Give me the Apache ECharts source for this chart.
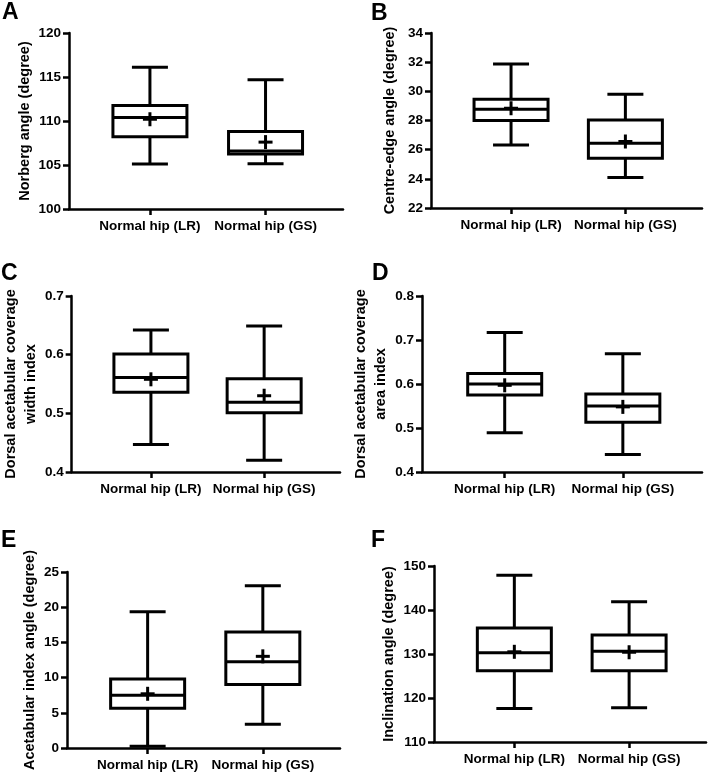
<!DOCTYPE html>
<html>
<head>
<meta charset="utf-8">
<script src="https://cdn.jsdelivr.net/npm/echarts@6/dist/echarts.min.js"></script>
<style>
html,body{margin:0;padding:0;background:#fff;}
#chart{width:708px;height:775px;}
</style>
</head>
<body>
<div id="chart"></div>
<script>
// ---- Data: [min, Q1, median, Q3, max] per group, plus group means ----
const categories = ['Normal hip (LR)', 'Normal hip (GS)'];
const panelLetters = ['A', 'B', 'C', 'D', 'E', 'F'];
const yTitles = [
  'Norberg angle (degree)',
  'Centre-edge angle (degree)',
  'Dorsal acetabular coverage\nwidth index',
  'Dorsal acetabular coverage\narea index',
  'Acetabular index angle (degree)',
  'Inclination angle (degree)'
];

const norbergLR = [105.1, 108.2, 110.4, 111.75, 116.1];
const norbergGS = [105.15, 106.25, 106.6, 108.8, 114.7];
const norbergMeans = [110.2, 107.6];

const centreEdgeLR = [26.32, 28.0, 28.77, 29.45, 31.87];
const centreEdgeGS = [24.1, 25.42, 26.44, 28.04, 29.8];
const centreEdgeMeans = [28.84, 26.56];

const dacWidthLR = [0.447, 0.536, 0.561, 0.601, 0.642];
const dacWidthGS = [0.42, 0.501, 0.519, 0.559, 0.649];
const dacWidthMeans = [0.558, 0.530];

const dacAreaLR = [0.489, 0.575, 0.600, 0.624, 0.717];
const dacAreaGS = [0.440, 0.513, 0.550, 0.577, 0.669];
const dacAreaMeans = [0.597, 0.548];

const acetIndexLR = [0.24, 5.66, 7.5, 9.8, 19.34];
const acetIndexGS = [3.37, 9.03, 12.26, 16.49, 23.05];
const acetIndexMeans = [7.7, 13.02];

const inclinationLR = [117.6, 126.2, 130.3, 135.9, 147.9];
const inclinationGS = [117.8, 126.2, 130.6, 134.3, 141.9];
const inclinationMeans = [130.5, 130.4];

// y-axis ranges
const yMins = [100, 22, 0.4, 0.4, 0, 110];
const yMaxs = [120, 34, 0.7, 0.8, 25, 150];
const yIntervals = [5, 2, 0.1, 0.1, 5, 10];

const panelStats = [
  [norbergLR, norbergGS, norbergMeans],
  [centreEdgeLR, centreEdgeGS, centreEdgeMeans],
  [dacWidthLR, dacWidthGS, dacWidthMeans],
  [dacAreaLR, dacAreaGS, dacAreaMeans],
  [acetIndexLR, acetIndexGS, acetIndexMeans],
  [inclinationLR, inclinationGS, inclinationMeans]
];

// ---- Layout ----
const grids = [
  {left: 69, top: 33, width: 274, height: 176},
  {left: 431, top: 33, width: 271, height: 175},
  {left: 68, top: 296, width: 272, height: 176},
  {left: 422, top: 296, width: 280, height: 176},
  {left: 67, top: 572, width: 273, height: 176},
  {left: 434, top: 566, width: 272, height: 176}
];
const nameGaps = [34, 31, 27, 21, 26, 35];
const letterPos = [[2, 1], [371, 2], [1, 262], [372, 262], [1, 529], [371, 529]];

const FONT = 'Liberation Sans, Arial, sans-serif';
const textBase = {color: '#000', fontWeight: 'bold', fontFamily: FONT};

function renderBox(params, api) {
  const x = api.value(0);
  const c = function (v) { return api.coord([x, v]); };
  const pMin = c(api.value(1));
  const pQ1 = c(api.value(2));
  const pMed = c(api.value(3));
  const pQ3 = c(api.value(4));
  const pMax = c(api.value(5));
  const pMean = c(api.value(6));
  const cx = pMed[0];
  const hb = 37, hc = 18, hp = 7;
  const ls = {stroke: '#000', lineWidth: 3, fill: null};
  return {
    type: 'group',
    children: [
      {type: 'line', shape: {x1: cx, y1: pQ3[1], x2: cx, y2: pMax[1]}, style: ls},
      {type: 'line', shape: {x1: cx, y1: pQ1[1], x2: cx, y2: pMin[1]}, style: ls},
      {type: 'line', shape: {x1: cx - hc, y1: pMax[1], x2: cx + hc, y2: pMax[1]}, style: ls},
      {type: 'line', shape: {x1: cx - hc, y1: pMin[1], x2: cx + hc, y2: pMin[1]}, style: ls},
      {type: 'rect', shape: {x: cx - hb, y: pQ3[1], width: 2 * hb, height: pQ1[1] - pQ3[1]},
        style: {stroke: '#000', lineWidth: 3, fill: '#fff'}},
      {type: 'line', shape: {x1: cx - hb, y1: pMed[1], x2: cx + hb, y2: pMed[1]}, style: ls},
      {type: 'line', shape: {x1: cx - hp, y1: pMean[1], x2: cx + hp, y2: pMean[1]}, style: ls},
      {type: 'line', shape: {x1: cx, y1: pMean[1] - hp, x2: cx, y2: pMean[1] + hp}, style: ls}
    ]
  };
}

const option = {
  backgroundColor: '#fff',
  animation: false,
  title: panelLetters.map(function (t, i) {
    return {text: t, left: letterPos[i][0], top: letterPos[i][1], padding: 0,
      textStyle: Object.assign({}, textBase, {fontSize: 23})};
  }),
  grid: grids,
  xAxis: grids.map(function (g, i) {
    return {
      type: 'value', gridIndex: i, min: 0.3, max: 2.67,
      axisLine: {show: true, onZero: false, lineStyle: {color: '#000', width: 2.5}},
      axisTick: {show: true, customValues: [1, 2], length: 6, lineStyle: {color: '#000', width: 2.5}},
      axisLabel: Object.assign({}, textBase, {
        fontSize: 13.5, margin: 10, customValues: [1, 2],
        formatter: function (v) { return categories[Math.round(v) - 1] || ''; }
      }),
      splitLine: {show: false}
    };
  }),
  yAxis: grids.map(function (g, i) {
    return {
      type: 'value', gridIndex: i, min: yMins[i], max: yMaxs[i], interval: yIntervals[i],
      name: yTitles[i], nameLocation: 'middle', nameGap: nameGaps[i],
      nameTextStyle: Object.assign({}, textBase, {fontSize: 14.5, lineHeight: 20}),
      axisLine: {show: true, lineStyle: {color: '#000', width: 2.5}},
      axisTick: {show: true, length: 6, lineStyle: {color: '#000', width: 2.5}},
      axisLabel: Object.assign({}, textBase, {fontSize: 13.5, margin: 8}),
      splitLine: {show: false}
    };
  }),
  series: panelStats.map(function (s, i) {
    const lr = s[0], gs = s[1], means = s[2];
    return {
      type: 'custom', xAxisIndex: i, yAxisIndex: i,
      renderItem: renderBox,
      encode: {x: 0, y: [1, 2, 3, 4, 5, 6]},
      data: [
        [1].concat(lr, [means[0]]),
        [2].concat(gs, [means[1]])
      ]
    };
  })
};

const chart = echarts.init(document.getElementById('chart'), null, {renderer: 'canvas'});
chart.setOption(option);
</script>
</body>
</html>
